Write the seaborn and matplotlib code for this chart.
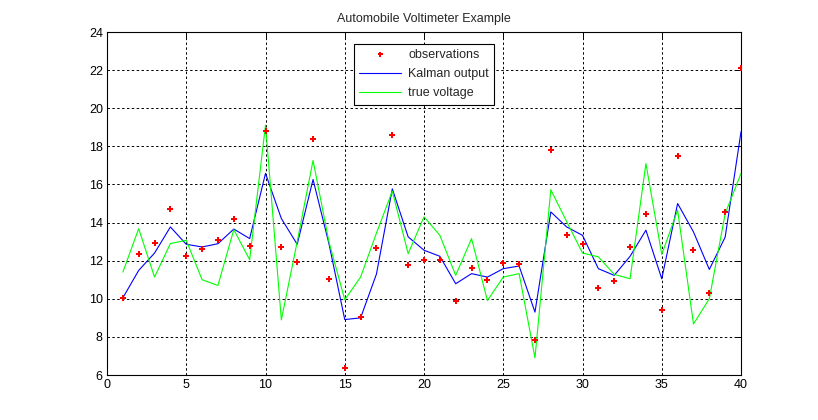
import matplotlib
matplotlib.use("Agg")
import matplotlib.pyplot as plt
import seaborn as sns
import pandas as pd
from matplotlib.lines import Line2D

steps = list(range(1, 41))
observations = [10.05, 12.34, 12.91, 14.70, 12.23, 12.60, 13.09, 14.17, 12.79, 18.82,
                12.74, 11.95, 18.37, 11.05, 6.37, 9.03, 12.68, 18.58, 11.79, 12.05,
                12.05, 9.89, 11.63, 11.00, 11.89, 11.84, 7.84, 17.79, 13.37, 12.89,
                10.58, 10.95, 12.74, 14.47, 9.42, 17.47, 12.58, 10.32, 14.53, 22.10]
kalman_output = [10.05, 11.49, 12.40, 13.77, 12.86, 12.72, 12.89, 13.66, 13.16, 16.58,
                 14.21, 12.86, 16.26, 12.90, 8.91, 9.00, 11.30, 15.77, 13.25, 12.55,
                 12.23, 10.79, 11.32, 11.14, 11.58, 11.72, 9.30, 14.56, 13.77, 13.33,
                 11.58, 11.23, 12.23, 13.60, 11.05, 15.00, 13.51, 11.54, 13.24, 18.77]
true_voltage = [11.40, 13.68, 11.14, 12.90, 13.07, 11.00, 10.70, 13.63, 12.05, 19.12,
                8.89, 13.00, 17.26, 13.00, 9.95, 11.14, 13.45, 15.65, 12.37, 14.30,
                13.33, 11.23, 13.16, 9.91, 11.14, 11.32, 6.90, 15.72, 14.05, 12.40,
                12.20, 11.28, 11.05, 17.10, 12.33, 14.65, 8.68, 10.00, 14.47, 16.58]
x_ticks = [0, 5, 10, 15, 20, 25, 30, 35, 40]
y_ticks = [6, 8, 10, 12, 14, 16, 18, 20, 22, 24]
title = "Automobile Voltimeter Example"

df = pd.DataFrame({"step": steps, "obs": observations,
                   "kalman": kalman_output, "true": true_voltage})

sns.set_style("white")
plt.rcParams["font.family"] = ["Liberation Sans", "DejaVu Sans"]
plt.rcParams["font.size"] = 9

fig = plt.figure(figsize=(8.18, 4.2), dpi=100)
ax = fig.add_axes([0.1308, 0.1071, 0.7751, 0.8167])

sns.lineplot(data=df, x="step", y="kalman", color="#0000ff", linewidth=0.8, ax=ax, zorder=3)
sns.lineplot(data=df, x="step", y="true", color="#00ff00", linewidth=0.8, ax=ax, zorder=3)
sns.scatterplot(data=df, x="step", y="obs", color="#ff0000", marker="P", s=13,
                linewidth=0, ax=ax, zorder=4)

ax.set_xlim(0, 40)
ax.set_ylim(6, 24)
ax.set_xticks(x_ticks)
ax.set_yticks(y_ticks)
ax.set_xlabel("")
ax.set_ylabel("")
ax.set_title(title, fontsize=9, pad=7)
ax.grid(True, color="black", linestyle=(0, (2.5, 2.5)), linewidth=0.7)
ax.tick_params(direction="in", length=4, width=0.7, top=True, right=True,
               labelsize=9, colors="black", pad=3)
for s in ax.spines.values():
    s.set_color("black")
    s.set_linewidth(0.8)

handles = [Line2D([], [], color="#ff0000", marker="P", markersize=3.6, linestyle="none",
                  markeredgewidth=0),
           Line2D([], [], color="#0000ff", linewidth=0.8),
           Line2D([], [], color="#00ff00", linewidth=0.8)]
leg = ax.legend(handles, ["observations", "Kalman output", "true voltage"],
                loc="upper center", bbox_to_anchor=(0.5, 0.966), fancybox=False,
                framealpha=1, edgecolor="black", fontsize=9, handlelength=3.3,
                borderpad=0.45, labelspacing=0.55, handletextpad=0.6, borderaxespad=0)
leg.get_frame().set_linewidth(0.8)

fig.savefig("out.png", dpi=100)
